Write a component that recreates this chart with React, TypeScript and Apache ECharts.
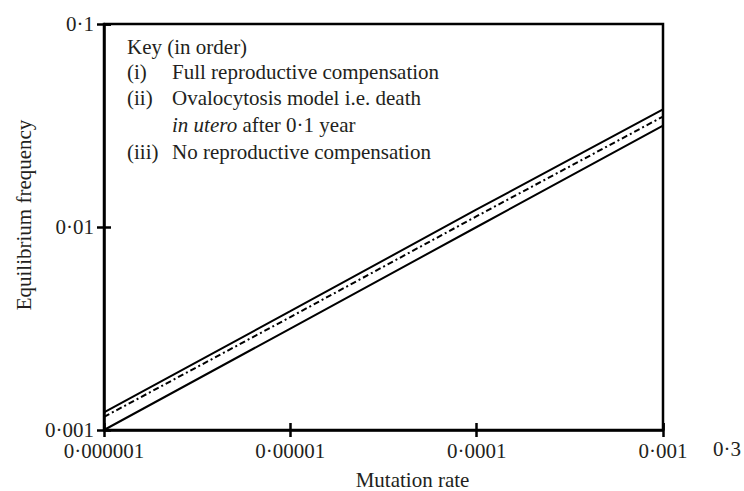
import React, { useEffect, useRef } from "react";
import * as echarts from "echarts";

const xTickValues = [1e-6, 1e-5, 1e-4, 1e-3];
const xTickLabels = ["0·000001", "0·00001", "0·0001", "0·001"];
const yTickValues = [0.001, 0.01, 0.1];
const yTickLabels = ["0·001", "0·01", "0·1"];

const mutationRate = [1e-6, 1e-5, 1e-4, 1e-3];
const fullCompensation = [0.00122, 0.00385, 0.0122, 0.0380];
const ovalocytosis = [0.00116, 0.00360, 0.0113, 0.0350];
const noCompensation = [0.001, 0.00316, 0.01, 0.0316];

const keyTitle = "Key (in order)";
const keyNumbers = ["(i)", "(ii)", "", "(iii)"];
const keyTexts = [
  "Full reproductive compensation",
  "Ovalocytosis model i.e. death",
  "{it|in utero} after 0·1 year",
  "No reproductive compensation",
];
const strayLabel = "0·3";

const FONT = "Liberation Serif, Times New Roman, serif";
const FS = 21;
const INK = "#231f20";

function pair(xs: number[], ys: number[]) {
  return xs.map((x, i) => [x, ys[i]]);
}

function labelFor(values: number[], labels: string[]) {
  return (v: number) => {
    const lv = Math.log10(v);
    for (let i = 0; i < values.length; i++) {
      if (Math.abs(Math.log10(values[i]) - lv) < 1e-6) return labels[i];
    }
    return "";
  };
}

function txt(text: string, left: number, centerY: number, rich?: any) {
  return {
    type: "text",
    left,
    top: centerY - 12,
    style: {
      text,
      fontFamily: FONT,
      fontSize: FS,
      fill: INK,
      ...(rich ? { rich } : {}),
    },
  };
}

export default function App() {
  const ref = useRef<HTMLDivElement>(null);
  useEffect(() => {
    document.body.style.margin = "0";
    const chart = echarts.init(ref.current!, null, { renderer: "svg" });
    const gridLeft = 104;
    const gridTop = 24;
    const gridRight = 744 - 663;
    const gridBottom = 491 - 430;
    const textBase = { fontFamily: FONT, fontSize: FS, color: INK };
    const keyGraphics: any[] = [txt(keyTitle, 127, 48)];
    keyTexts.forEach((t, i) => {
      const y = 73 + i * 26.7;
      if (keyNumbers[i]) keyGraphics.push(txt(keyNumbers[i], 127, y));
      keyGraphics.push(
        txt(t, 172, y, {
          it: { fontStyle: "italic", fontFamily: FONT, fontSize: FS, color: INK },
        })
      );
    });
    keyGraphics.push(txt(strayLabel, 713, 450));

    const axisLine = { show: true, lineStyle: { color: "#000", width: 2.5 } };
    const tickStyle = { color: "#000", width: 2.5 };
    chart.setOption({
      animation: false,
      backgroundColor: "#fff",
      grid: {
        left: gridLeft,
        right: gridRight,
        top: gridTop,
        bottom: gridBottom,
        show: true,
        borderColor: "#000",
        borderWidth: 2.5,
        containLabel: false,
        outerBoundsMode: "none",
      } as any,
      xAxis: [
        {
          type: "log",
          logBase: 10,
          min: 1e-6,
          max: 1e-3,
          axisLine,
          axisTick: { show: true, inside: false, length: 7, lineStyle: tickStyle },
          splitLine: { show: false },
          minorTick: { show: false },
          axisLabel: { formatter: labelFor(xTickValues, xTickLabels), margin: 10, ...textBase },
          name: "Mutation rate",
          nameLocation: "middle",
          nameGap: 39,
          nameTextStyle: { ...textBase, padding: [0, 0, 0, 58] },
        },
        {
          type: "log",
          logBase: 10,
          min: 1e-6,
          max: 1e-3,
          position: "bottom",
          axisLine: { show: false },
          axisTick: { show: true, inside: true, length: 7, lineStyle: tickStyle },
          splitLine: { show: false },
          axisLabel: { show: false },
        },
      ],
      yAxis: [
        {
          type: "log",
          logBase: 10,
          min: 0.001,
          max: 0.1,
          axisLine,
          axisTick: { show: true, inside: false, length: 7, lineStyle: tickStyle },
          splitLine: { show: false },
          axisLabel: { formatter: labelFor(yTickValues, yTickLabels), margin: 10, ...textBase },
          name: "Equilibrium frequency",
          nameLocation: "middle",
          nameGap: 68,
          nameTextStyle: { ...textBase, padding: [0, 0, 0, 24] },
        },
        {
          type: "log",
          logBase: 10,
          min: 0.001,
          max: 0.1,
          position: "left",
          axisLine: { show: false },
          axisTick: { show: true, inside: true, length: 7, lineStyle: tickStyle },
          splitLine: { show: false },
          axisLabel: { show: false },
        },
      ],
      series: [
        {
          type: "line",
          data: pair(mutationRate, fullCompensation),
          symbol: "none",
          lineStyle: { color: "#000", width: 2 },
        },
        {
          type: "line",
          data: pair(mutationRate, ovalocytosis),
          symbol: "none",
          lineStyle: { color: "#000", width: 2, type: [6, 3, 2, 3] },
        },
        {
          type: "line",
          data: pair(mutationRate, noCompensation),
          symbol: "none",
          lineStyle: { color: "#000", width: 2 },
        },
      ],
      graphic: keyGraphics,
    });
    return () => chart.dispose();
  }, []);
  return (
    <div
      ref={ref}
      style={{ position: "absolute", left: 0, top: 0, width: 744, height: 491 }}
    />
  );
}
